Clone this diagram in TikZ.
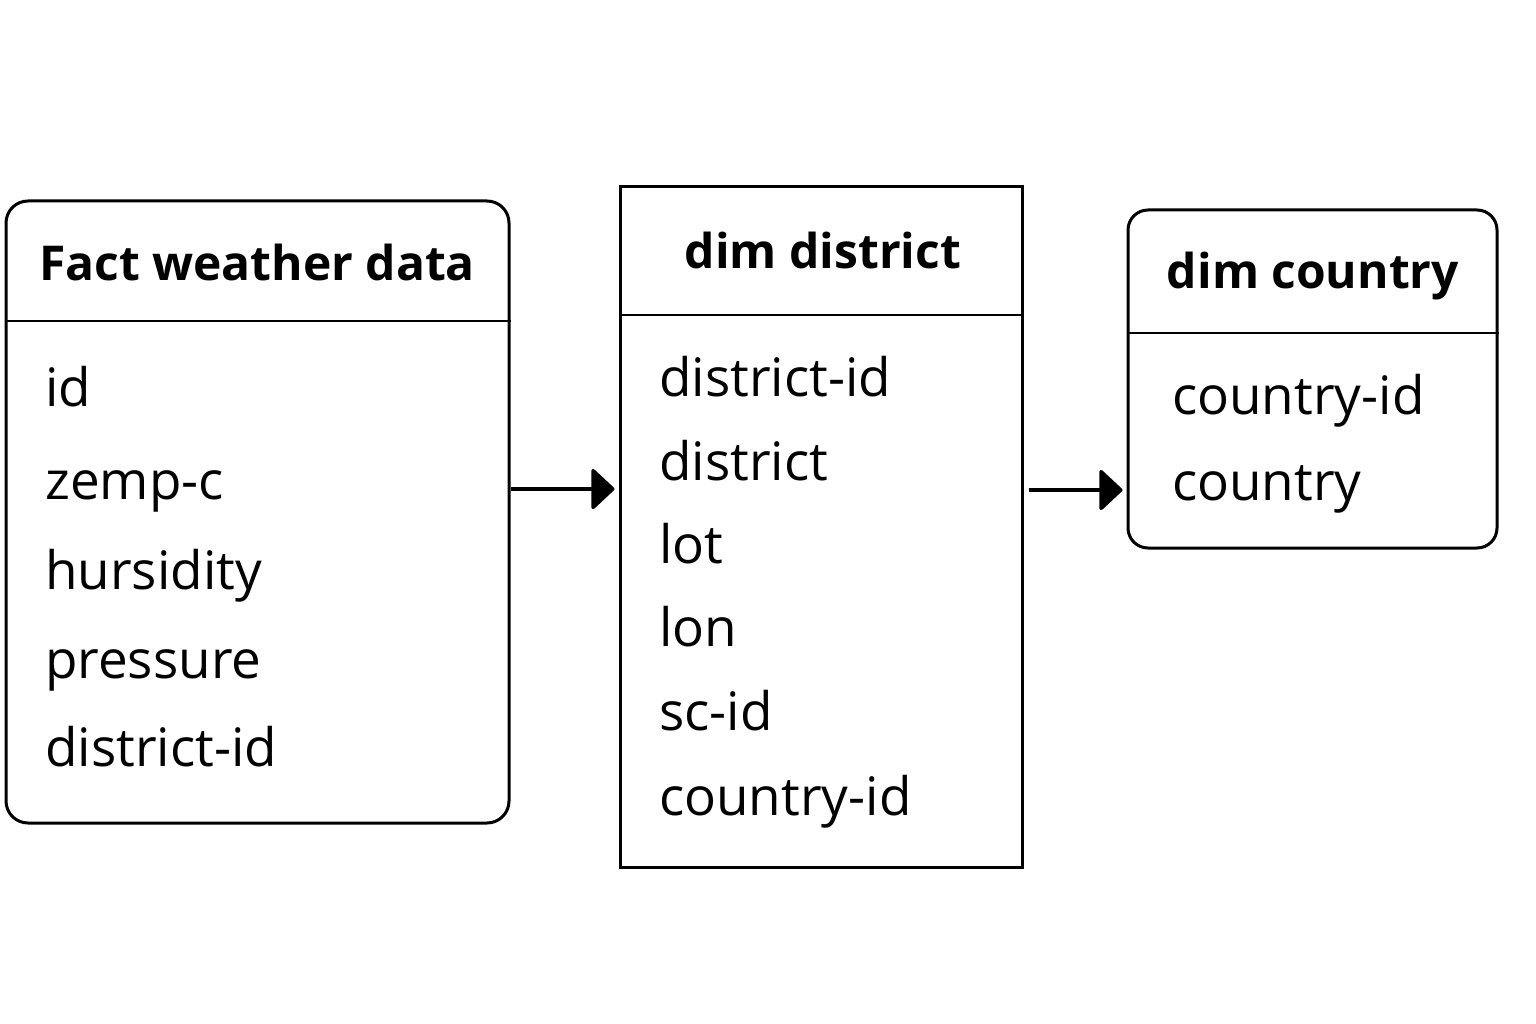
\documentclass[tikz,border=0pt]{standalone}
\usepackage{fontspec}
\setmainfont{Open Sans}
\usetikzlibrary{arrows.meta}
\tikzset{
  tbl/.style={draw, line width=3pt, inner sep=0pt, fill=white},
  item/.style={anchor=base west, inner sep=0pt, font=\fontsize{53}{60}\selectfont},
  ttl/.style={anchor=base, inner sep=0pt, font=\fontsize{48}{56}\selectfont\bfseries},
  divider/.style={line width=2.5pt},
  link/.style={line width=3.5pt, -{Triangle[width=44pt,length=24pt,round]}}
}
\begin{document}
\begin{tikzpicture}[x=1pt,y=-1pt]
\useasboundingbox (0,0) rectangle (1536,1024);
% boxes
\node[tbl, rounded corners=22pt, minimum width=503pt, minimum height=622pt] (fact) at (257.5,512) {};
\node[tbl, minimum width=402pt, minimum height=680pt] (dist) at (821,527) {};
\node[tbl, rounded corners=20pt, minimum width=369pt, minimum height=338pt] (ctry) at (1312.5,379) {};
% dividers
\coordinate (d1) at (0,321);
\coordinate (d2) at (0,315);
\coordinate (d3) at (0,333);
\draw[divider] (fact.west |- d1) -- (fact.east |- d1);
\draw[divider] (dist.west |- d2) -- (dist.east |- d2);
\draw[divider] (ctry.west |- d3) -- (ctry.east |- d3);
% titles
\node[ttl] (t1) at (257,280) {Fact weather data};
\node[ttl] (t2) at (823,269) {dim district};
\node[ttl] (t3) at (1313,288) {dim country};
% fact items
\node[item] (f1) at (45,406) {id};
\node[item] (f2) at (45,499) {zemp-c};
\node[item] (f3) at (45,589) {hursidity};
\node[item] (f4) at (45,678) {pressure};
\node[item] (f5) at (45,766) {district-id};
% district items
\node[item] (s1) at (659,396) {district-id};
\node[item] (s2) at (659,480) {district};
\node[item] (s3) at (659,563) {lot};
\node[item] (s4) at (659,646) {lon};
\node[item] (s5) at (659,730) {sc-id};
\node[item] (s6) at (659,815) {country-id};
% country items
\node[item] (c1) at (1172,414) {country-id};
\node[item] (c2) at (1172,500) {country};
% connectors
\coordinate (a1) at (0,489);
\coordinate (a2) at (0,490);
\draw[link] (fact.east |- a1) -- ([xshift=-4pt]dist.west |- a1);
\draw[link] ([xshift=5pt]dist.east |- a2) -- ([xshift=-4pt]ctry.west |- a2);
\end{tikzpicture}
\end{document}
